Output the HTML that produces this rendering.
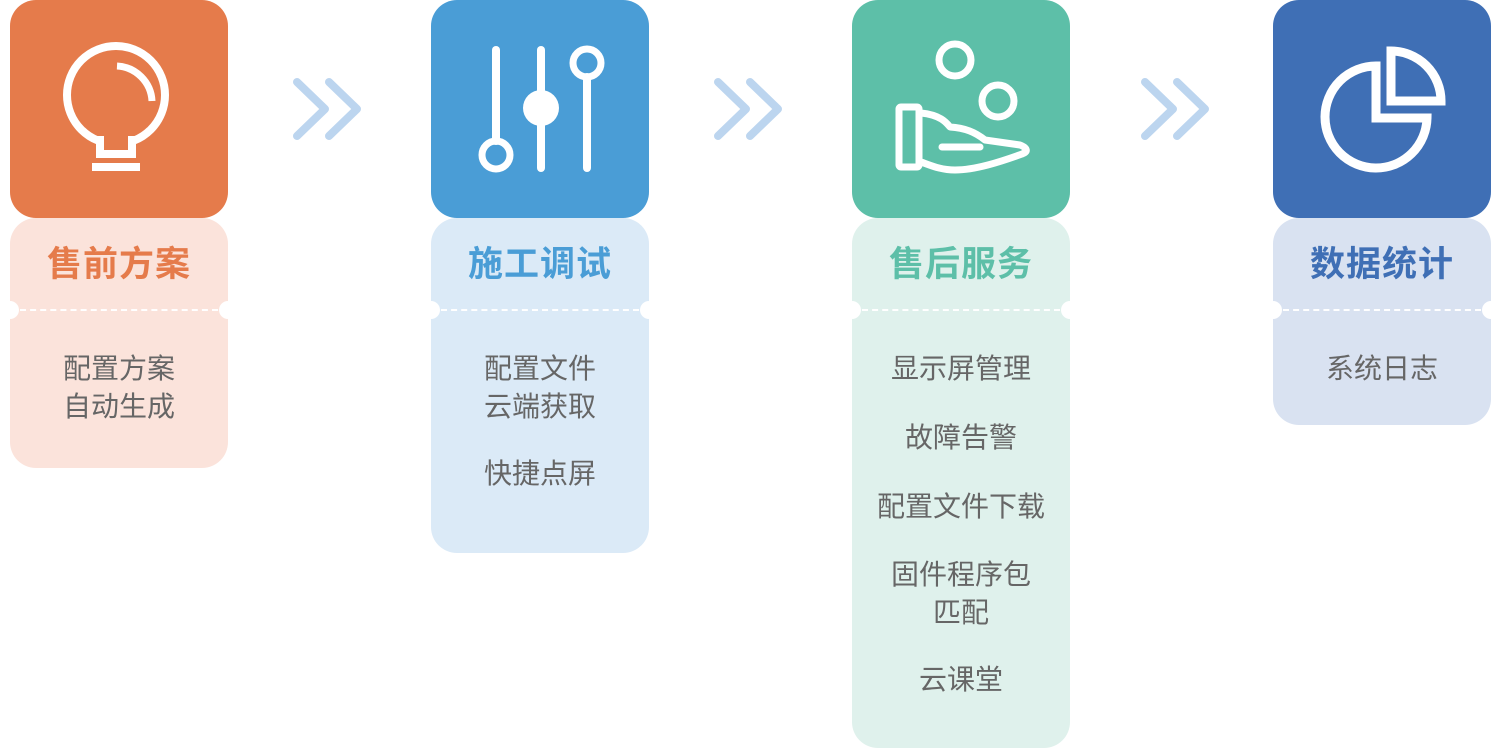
<!DOCTYPE html>
<html><head><meta charset="utf-8"><style>
body{margin:0;width:1501px;height:749px;background:#fff;position:relative;overflow:hidden;font-family:"Liberation Sans","Noto Sans CJK SC",sans-serif}
.col{position:absolute;top:0;width:218px}
.icon{position:absolute;left:0;top:0;width:218px;height:218px;border-radius:26px}
.card{position:absolute;left:0;top:218px;width:218px;border-radius:26px}
.title{position:absolute;top:18px;width:100%;text-align:center;font-size:35px;font-weight:bold;letter-spacing:1px}
.div{position:absolute;top:91px;left:10px;right:10px;border-top:2px dashed #fff}
.n{position:absolute;top:83px;width:18px;height:18px;border-radius:50%;background:#fff}
.items{position:absolute;top:132px;width:100%;text-align:center;color:#666;font-size:28px;line-height:38px}
svg{position:absolute;left:0;top:0}
</style></head><body>
<svg width="1501" height="749" style="z-index:5">
<g fill="none" stroke="#bcd5ef" stroke-width="8" stroke-linecap="round" stroke-linejoin="round">
<path d="M297,82 L325,109 L297,136 M329,82 L357,109 L329,136"/>
<path d="M718,82 L746,109 L718,136 M750,82 L778,109 L750,136"/>
<path d="M1145,82 L1173,109 L1145,136 M1177,82 L1205,109 L1177,136"/>
</g>
</svg>

<div class="col" style="left:10px">
<div class="card" style="height:250px;background:#fbe3db"><div class="title" style="color:#e57b4b">售前方案</div><div class="div"></div><div class="n" style="left:-9px"></div><div class="n" style="right:-9px"></div>
<div class="items">配置方案<br>自动生成</div></div>
<div class="icon" style="background:#e57b4b"></div>
</div>
<div class="col" style="left:431px">
<div class="card" style="height:335px;background:#dbeaf7"><div class="title" style="color:#4a9dd6">施工调试</div><div class="div"></div><div class="n" style="left:-9px"></div><div class="n" style="right:-9px"></div>
<div class="items">配置文件<br>云端获取<br><div style="height:29px"></div>快捷点屏</div></div>
<div class="icon" style="background:#4a9dd6"></div>
</div>
<div class="col" style="left:852px">
<div class="card" style="height:530px;background:#dff1ec"><div class="title" style="color:#5dbfa8">售后服务</div><div class="div"></div><div class="n" style="left:-9px"></div><div class="n" style="right:-9px"></div>
<div class="items">显示屏管理<div style="height:31px"></div>故障告警<div style="height:31px"></div>配置文件下载<div style="height:30px"></div>固件程序包<br>匹配<div style="height:29px"></div>云课堂</div></div>
<div class="icon" style="background:#5dbfa8"></div>
</div>
<div class="col" style="left:1273px">
<div class="card" style="height:207px;background:#d9e2f1"><div class="title" style="color:#3f6fb5">数据统计</div><div class="div"></div><div class="n" style="left:-9px"></div><div class="n" style="right:-9px"></div>
<div class="items">系统日志</div></div>
<div class="icon" style="background:#3f6fb5"></div>
</div>

<svg width="1501" height="749" style="z-index:6">
<g fill="none" stroke="#fff" stroke-width="8">
<circle cx="116" cy="95" r="49"/>
<rect x="99" y="136" width="34" height="14" fill="#e57b4b" stroke="none"/>
<path d="M100,136 L100,154 L132,154 L132,136"/>
<line x1="92" y1="167" x2="140" y2="167"/>
<path d="M117,66 A37,37 0 0 1 152,101" stroke-width="7"/>
</g>
<g stroke="#fff" stroke-width="8" stroke-linecap="round" fill="none">
<line x1="496" y1="50" x2="496" y2="141"/>
<circle cx="496" cy="155" r="14" stroke-width="7"/>
<line x1="541" y1="50" x2="541" y2="168"/>
<circle cx="541" cy="108" r="18" fill="#fff" stroke="none"/>
<circle cx="587" cy="63" r="14" stroke-width="7"/>
<line x1="587" y1="77" x2="587" y2="168"/>
</g>
<g stroke="#fff" stroke-width="7" fill="none" stroke-linejoin="round" stroke-linecap="round">
<circle cx="955" cy="60" r="16"/>
<circle cx="998" cy="101" r="16"/>
<rect x="899" y="107" width="20" height="60" rx="2"/>
<path d="M921,113 C940,115 946,122 950,127 C965,128 975,132 985,140 L1020,145 C1028,148 1028,152 1022,154 C1000,162 975,170 955,170 C940,170 930,165 921,162"/>
<line x1="942" y1="147" x2="980" y2="147"/>
</g>
<g stroke="#fff" stroke-width="9" fill="none" stroke-linejoin="miter">
<path d="M1376,66 A51,51 0 1 0 1427,118 L1376,118 Z"/>
<path d="M1391,51 L1391,101 L1441,101 A50,50 0 0 0 1391,51 Z"/>
</g>
</svg>
</body></html>
